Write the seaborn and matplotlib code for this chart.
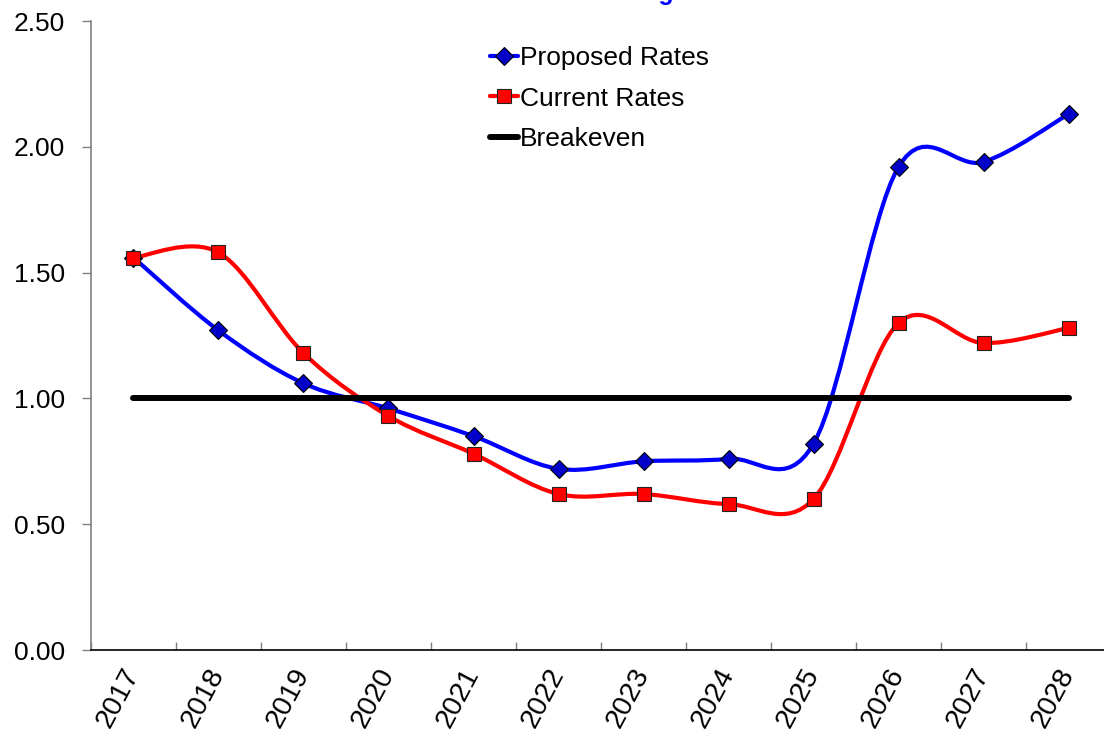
import numpy as np
import matplotlib
matplotlib.use("Agg")
import matplotlib.pyplot as plt
import matplotlib.transforms as mtransforms
from matplotlib.path import Path
from matplotlib.patches import PathPatch
from matplotlib.lines import Line2D
import seaborn as sns

# ── Data ─────────────────────────────────────────────────────────────────────
YEARS = ["2017", "2018", "2019", "2020", "2021", "2022",
         "2023", "2024", "2025", "2026", "2027", "2028"]
PROPOSED = [1.56, 1.27, 1.06, 0.96, 0.85, 0.72, 0.75, 0.76, 0.82, 1.92, 1.94, 2.13]
CURRENT = [1.56, 1.58, 1.18, 0.93, 0.78, 0.62, 0.62, 0.58, 0.60, 1.30, 1.22, 1.28]
BREAKEVEN = [1.00] * 12

TITLE = "Debt Service Coverage"

BLUE_LINE = "#0000FF"
BLUE_MARK = "#0000C8"
RED = "#FF0000"

sns.set_style("white")
plt.rcParams["font.family"] = ["Liberation Sans", "DejaVu Sans"]
plt.rcParams["text.color"] = "black"


def smooth_path(x, y):
    """Đường cong Bezier kiểu Excel (smoothed line) qua các điểm dữ liệu."""
    pts = np.column_stack([x, y]).astype(float)
    n = len(pts)
    verts, codes = [pts[0]], [Path.MOVETO]
    for i in range(n - 1):
        p0 = pts[i - 1] if i > 0 else pts[i]
        p1, p2 = pts[i], pts[i + 1]
        p3 = pts[i + 2] if i + 2 < n else pts[i + 1]
        verts += [p1 + (p2 - p0) / 6, p2 - (p3 - p1) / 6, p2]
        codes += [Path.CURVE4] * 3
    return Path(verts, codes)


fig = plt.figure(figsize=(11.04, 7.4), dpi=100)
ax = fig.add_axes([0.0824, 0.1216, 0.924, 0.85])

x = np.arange(len(YEARS))

# Smoothed lines
for vals, col in [(PROPOSED, BLUE_LINE), (CURRENT, RED)]:
    ax.add_patch(PathPatch(smooth_path(x, vals), facecolor="none",
                           edgecolor=col, linewidth=3, zorder=2,
                           capstyle="round", joinstyle="round"))

# Markers
sns.lineplot(x=x, y=PROPOSED, ax=ax, linestyle="none", marker="D",
             markersize=9, markerfacecolor=BLUE_MARK, markeredgecolor="black",
             markeredgewidth=0.8, zorder=3)
sns.lineplot(x=x, y=CURRENT, ax=ax, linestyle="none", marker="s",
             markersize=10, markerfacecolor=RED, markeredgecolor="#222222",
             markeredgewidth=0.8, zorder=4)

# Breakeven
sns.lineplot(x=x, y=BREAKEVEN, ax=ax, color="black", linewidth=4.3,
             solid_capstyle="round", zorder=5)

# Axes
ax.set_xlim(-0.5, 11.5)
ax.set_ylim(0, 2.5)
ax.set_yticks(np.arange(0, 2.51, 0.5))
ax.set_yticklabels([f"{v:.2f}" for v in np.arange(0, 2.51, 0.5)], fontsize=19)
ax.set_xticks(x)
ax.set_xticklabels(YEARS, fontsize=20.5, rotation=62, ha="right", va="top")
ax.set_xticks(np.arange(-0.5, 12, 1), minor=True)
ax.tick_params(axis="x", which="major", length=0, pad=10, labelcolor="black")
ax.tick_params(axis="x", which="minor", direction="in", length=6,
               color="#808080", width=1, bottom=True)
ax.tick_params(axis="y", direction="out", length=6.5, color="#808080",
               width=1, pad=12, left=True, labelcolor="black")

# dịch nhãn năm sang phải một chút
shift = mtransforms.ScaledTranslation(11 / 100, 0, fig.dpi_scale_trans)
for lbl in ax.get_xticklabels():
    lbl.set_transform(lbl.get_transform() + shift)

for side in ["top", "right"]:
    ax.spines[side].set_visible(False)
ax.spines["left"].set_color("#808080")
ax.spines["left"].set_linewidth(1.2)
ax.spines["bottom"].set_color("black")
ax.spines["bottom"].set_linewidth(1.2)
ax.set_xlabel("")
ax.set_ylabel("")
ax.grid(False)

# Legend
handles = [
    Line2D([], [], color=BLUE_LINE, linewidth=3, marker="D", markersize=9,
           markerfacecolor=BLUE_MARK, markeredgecolor="black", markeredgewidth=0.8),
    Line2D([], [], color=RED, linewidth=3, marker="s", markersize=10,
           markerfacecolor=RED, markeredgecolor="#222222", markeredgewidth=0.8),
    Line2D([], [], color="black", linewidth=4.3, solid_capstyle="round"),
]
labels = ["Proposed Rates", "Current Rates", "Breakeven"]
fig.legend(handles, labels, loc="upper left",
           bbox_to_anchor=(490 / 1104, 1 - 46 / 740), frameon=False,
           fontsize=19, handlelength=1.05, handletextpad=0.08,
           borderpad=0, borderaxespad=0, labelspacing=0.63)

# Title (cắt ở mép trên như ảnh gốc)
fig.text(688 / 1104, 1.0, TITLE, ha="right", va="baseline", color="blue",
         fontsize=18, fontweight="bold")

fig.savefig("out.png", dpi=100)
